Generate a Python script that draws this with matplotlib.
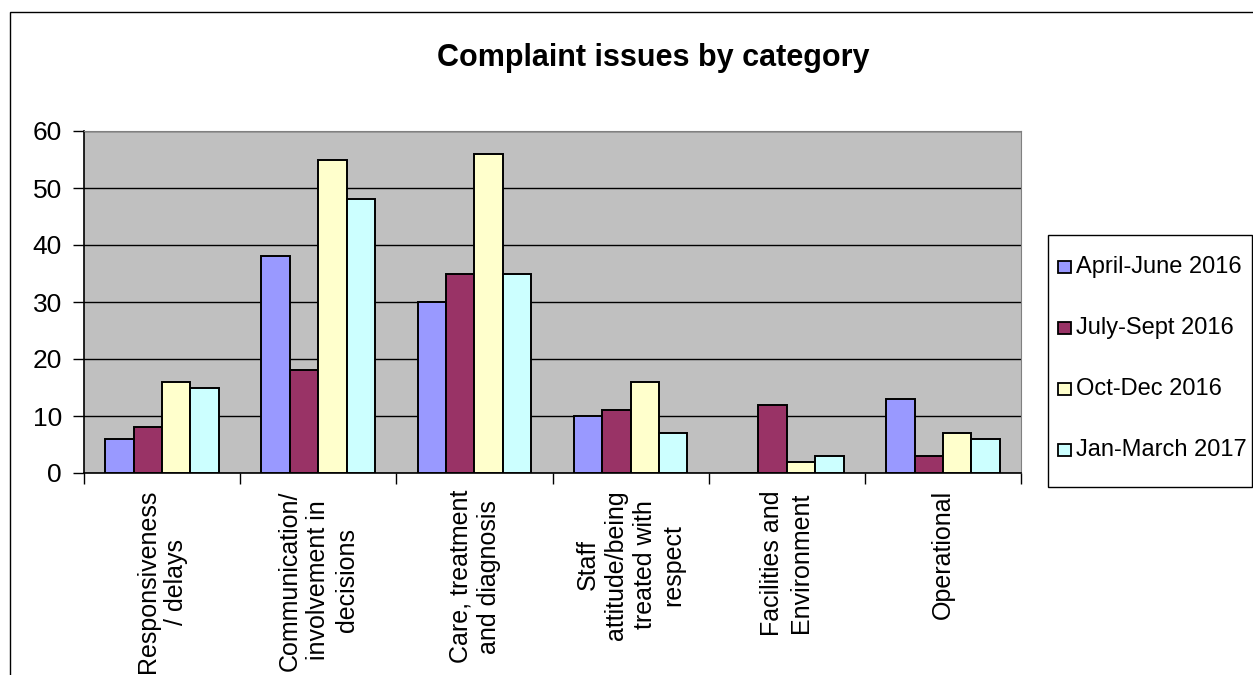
import matplotlib
matplotlib.use("Agg")
import matplotlib.pyplot as plt
import numpy as np
from matplotlib.patches import Rectangle

categories = [
    "Responsiveness\n/ delays",
    "Communication/\ninvolvement in\ndecisions",
    "Care, treatment\nand diagnosis",
    "Staff\nattitude/being\ntreated with\nrespect",
    "Facilities and\nEnvironment",
    "Operational",
]
periods = ["April-June 2016", "July-Sept 2016", "Oct-Dec 2016", "Jan-March 2017"]
april_june_2016 = [6, 38, 30, 10, 0, 13]
july_sept_2016 = [8, 18, 35, 11, 12, 3]
oct_dec_2016 = [16, 55, 56, 16, 2, 7]
jan_march_2017 = [15, 48, 35, 7, 3, 6]
series = [april_june_2016, july_sept_2016, oct_dec_2016, jan_march_2017]
colors = ["#9999FF", "#993366", "#FFFFCC", "#CCFFFF"]

plt.rcParams["font.family"] = ["Liberation Sans", "DejaVu Sans"]

W, H = 1253, 675
fig = plt.figure(figsize=(W / 100, H / 100), dpi=100)

# chart border (right/bottom run off the picture)
fig.add_artist(Rectangle((10 / W, -0.1), 1.2, 1 - 12 / H + 0.1, transform=fig.transFigure,
                         fill=False, edgecolor="black", linewidth=1.0))

ax = fig.add_axes([84 / W, 1 - 473 / H, (1021 - 84) / W, (473 - 131) / H])
ax.set_facecolor("#C0C0C0")

x = np.arange(len(categories))
w = 1 / 5.5
for j, vals in enumerate(series):
    ax.bar(x + (j - 1.5) * w, vals, width=w, color=colors[j], edgecolor="black",
           linewidth=1.4, zorder=3)

ax.set_xlim(-0.5, len(categories) - 0.5)
ax.set_ylim(0, 60)
ax.set_yticks(range(0, 61, 10))
ax.yaxis.grid(True, color="black", linewidth=1.0, zorder=1)
ax.set_axisbelow(True)

ax.set_xticks(np.arange(-0.5, len(categories), 1.0))
ax.set_xticklabels([])
ax.tick_params(axis="x", length=8, width=1, direction="out")
ax.tick_params(axis="y", length=8, width=1, direction="out", labelsize=19, pad=8)

for s in ["top", "right"]:
    ax.spines[s].set_color("#808080")
for s in ["left", "bottom"]:
    ax.spines[s].set_color("black")
    ax.spines[s].set_linewidth(1.2)

for i, lab in enumerate(categories):
    ax.text(i, -0.05, lab, transform=ax.get_xaxis_transform(), rotation=90,
            ha="center", va="top", multialignment="center", fontsize=18,
            linespacing=1.25)

fig.text(653 / W, 1 - 58 / H, "Complaint issues by category", ha="center", va="center",
         fontsize=22, fontweight="bold")

# legend drawn by hand to match the spacing of the original
lx0, ly0, lx1, ly1 = 1048, 235, 1252, 487
fig.add_artist(Rectangle((lx0 / W, 1 - ly1 / H), (lx1 - lx0) / W, (ly1 - ly0) / H,
                         transform=fig.transFigure, fill=False, edgecolor="black",
                         linewidth=1.0))
for k, (name, c) in enumerate(zip(periods, colors)):
    yc = 267 + 61 * k
    fig.add_artist(Rectangle((1058 / W, 1 - (yc + 6) / H), 13 / W, 12 / H,
                             transform=fig.transFigure, facecolor=c, edgecolor="black",
                             linewidth=1.3))
    fig.text(1076 / W, 1 - yc / H, name, ha="left", va="center", fontsize=17)

fig.savefig("out.png", dpi=100)
